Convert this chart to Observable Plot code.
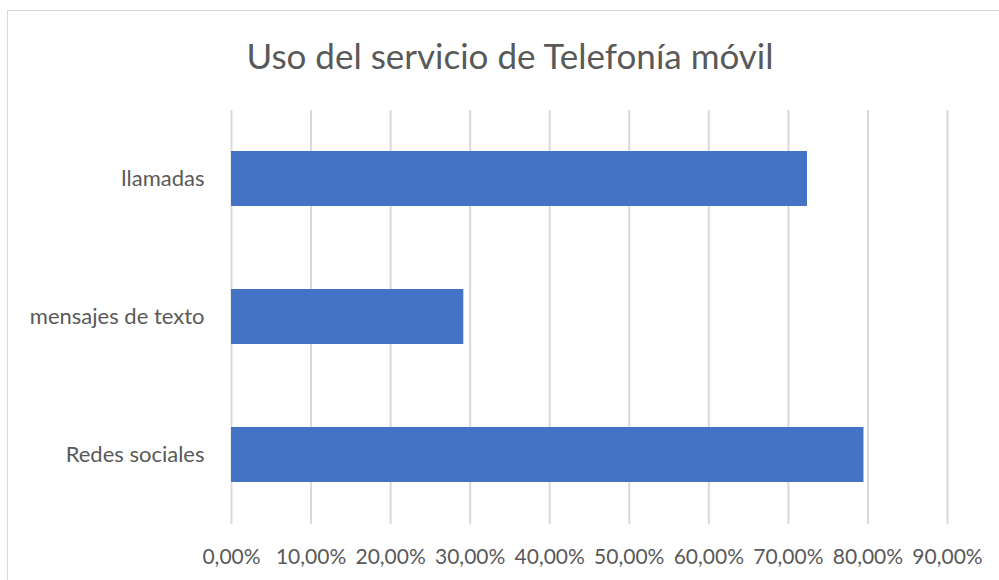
<!DOCTYPE html>
<html><head><meta charset="utf-8">
<script src="https://cdn.jsdelivr.net/npm/d3@7"></script>
<script src="https://cdn.jsdelivr.net/npm/@observablehq/plot@0.6"></script>
<style>
body{margin:0;background:#fff;overflow:hidden;width:999px;height:580px;position:relative;font-family:Lato,sans-serif}
#frame{position:absolute;left:7px;top:10px;width:1200px;height:800px;border:1px solid #d9d9d9;box-sizing:border-box}
#title{position:absolute;left:8px;top:34px;width:1004px;text-align:center;font-size:35px;line-height:42px;color:#595959;white-space:nowrap}
#chart{position:absolute;left:0;top:100px}
</style></head>
<body>
<div id="frame"></div>
<div id="title">Uso del servicio de Telefonía móvil</div>
<div id="chart"></div>
<script>
const categories = ["llamadas", "mensajes de texto", "Redes sociales"];
const values = [0.724, 0.292, 0.795];
const xTicks = [0, 0.1, 0.2, 0.3, 0.4, 0.5, 0.6, 0.7, 0.8, 0.9];

const data = categories.map((c, i) => ({category: c, value: values[i]}));
const fmt = d => (d * 100).toFixed(2).replace(".", ",") + "%";

const chart = Plot.plot({
  width: 999,
  height: 480,
  marginTop: 10,
  marginBottom: 56,
  marginLeft: 231,
  marginRight: 52,
  style: {fontFamily: "Lato, sans-serif", fontSize: "21px", color: "#595959", background: "transparent", overflow: "visible"},
  x: {domain: [0, 0.9]},
  y: {domain: categories, paddingInner: 0.6, paddingOuter: 0.3},
  marks: [
    Plot.gridX(xTicks, {stroke: "#d9d9d9", strokeOpacity: 1, strokeWidth: 2}),
    Plot.barX(data, {x: "value", y: "category", fill: "#4472C4"}),
    Plot.axisX(xTicks, {tickSize: 0, tickPadding: 25, tickFormat: fmt, fontSize: 21, label: null}),
    Plot.axisY({tickSize: 0, tickPadding: 27, fontSize: 22, label: null})
  ]
});
document.getElementById("chart").appendChild(chart);
</script>
</body></html>
